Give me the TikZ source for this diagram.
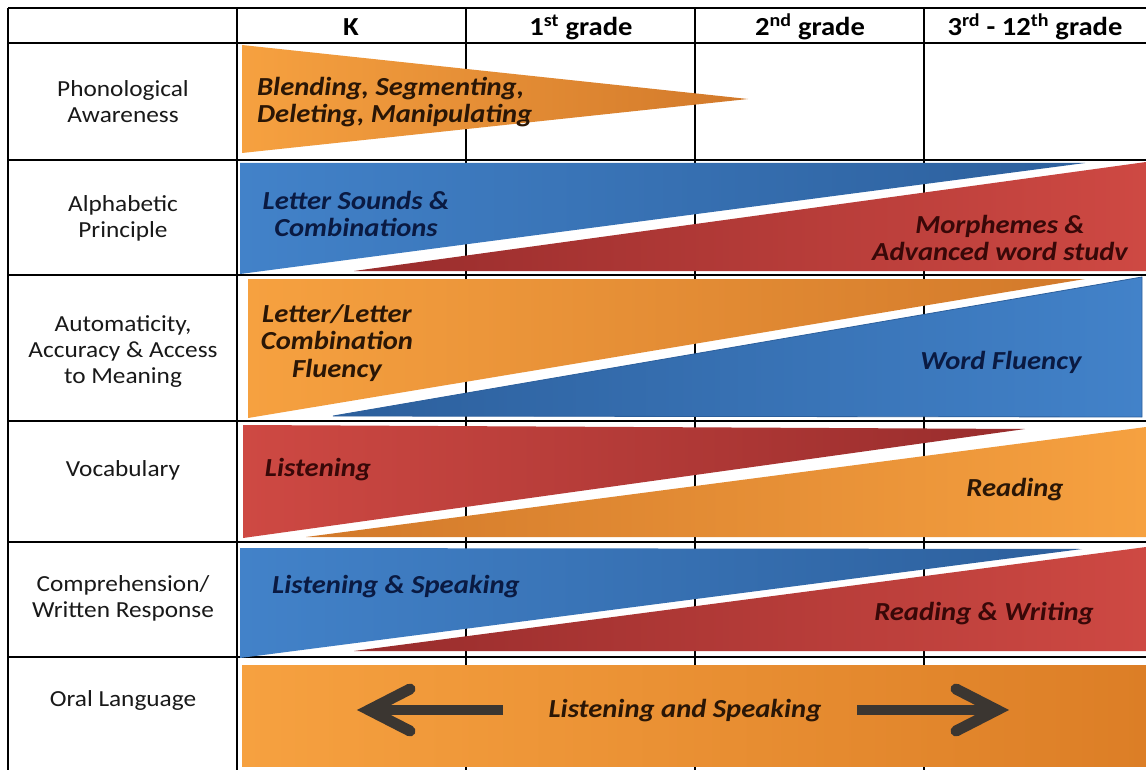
\documentclass[tikz,border=0pt]{standalone}
\usepackage{fontspec}
\setmainfont{Carlito}[FakeStretch=1.1]
\definecolor{orA}{HTML}{F6A140}
\definecolor{orB}{HTML}{D2792A}
\definecolor{orC}{HTML}{DC7E26}
\definecolor{blA}{HTML}{4282C9}
\definecolor{blB}{HTML}{2C5F9C}
\definecolor{rdA}{HTML}{CE4943}
\definecolor{rdB}{HTML}{982C2C}
\definecolor{ortx}{HTML}{2A1606}
\definecolor{bltx}{HTML}{0A1A42}
\definecolor{rdtx}{HTML}{380808}
\definecolor{arr}{HTML}{3B3631}
\tikzset{
  gridline/.style={line width=1.8pt, draw=black},
  lab/.style={font=\fontsize{23}{26}\selectfont, align=center, text=black!90, inner sep=0pt},
  head/.style={font=\fontsize{26}{28}\selectfont\bfseries, text=black, inner sep=0pt},
  inb/.style={font=\fontsize{26}{27.5}\selectfont\bfseries\itshape, align=center, inner sep=0pt},
  shaft/.style={draw=arr, line width=10pt, line cap=butt},
  chev/.style={draw=arr, line width=11pt, line cap=round, line join=miter},
}
\begin{document}
\begin{tikzpicture}[x=1pt,y=-1pt]
\useasboundingbox (0,0) rectangle (1146,770);
\fill[white] (0,0) rectangle (1146,770);
% grid
\foreach \xx in {8,237,466,695,924} \draw[gridline] (\xx,8) -- (\xx,770);
\foreach \yy in {8,43,160,275,421,542,657} \draw[gridline] (8,\yy) -- (1146,\yy);
% row 1
\shade[left color=orA, right color=orB] (242,45) -- (748,99) -- (242,153) -- cycle;
% row 2
\shade[left color=blA, right color=blB] (240,163) -- (1085,163) -- (240,274) -- cycle;
\shade[left color=rdB, right color=rdA] (354,271) -- (1146,162) -- (1146,271) -- cycle;
% row 3
\shade[left color=orA, right color=orB] (248,279) -- (1085,279) -- (248,418) -- cycle;
\shade[left color=blB, right color=blA, draw=blB, line width=0.8pt] (333,416) -- (1142,277) -- (1142,417) -- cycle;
% row 4
\shade[left color=rdA, right color=rdB] (243,425) -- (1025,429) -- (243,538) -- cycle;
\shade[left color=orB, right color=orA] (306,537) -- (1146,427) -- (1146,537) -- cycle;
% row 5
\shade[left color=blA, right color=blB] (240,548) -- (1082,549) -- (240,658) -- cycle;
\shade[left color=rdB, right color=rdA] (354,651) -- (1146,547) -- (1146,651) -- cycle;
% row 6
\shade[left color=orA, middle color=orA!85!orC, right color=orC] (242,665) rectangle (1146,766);
% arrows
\coordinate (ls) at (503,710);
\coordinate (lt) at (369,710);
\coordinate (lu) at (410,689);
\coordinate (ld) at (410,731);
\coordinate (rs) at (857,710);
\coordinate (rt) at (997,710);
\coordinate (ru) at (956,689);
\coordinate (rd) at (956,731);
\draw[shaft] (ls) -- (lt);
\draw[chev] (lu) -- (lt) -- (ld);
\draw[shaft] (rs) -- (rt);
\draw[chev] (ru) -- (rt) -- (rd);
% header
\node[head] (hK) at (351,27) {K};
\node[head] (h1) at (581,27) {1\textsuperscript{st} grade};
\node[head] (h2) at (810,27) {2\textsuperscript{nd} grade};
\node[head] (h3) at (1035,27) {3\textsuperscript{rd} - 12\textsuperscript{th} grade};
% labels
\node[lab] (l1) at (123,102) {Phonological\\Awareness};
\node[lab] (l2) at (123,218) {Alphabetic\\Principle};
\node[lab] (l3) at (123,352) {Automaticity,\\Accuracy \& Access\\to Meaning};
\node[lab] (l4) at (123,470) {Vocabulary};
\node[lab] (l5) at (123,598) {Comprehension/\\Written Response};
\node[lab] (l6) at (123,700) {Oral Language};
% in-shape texts
\node[inb, text=ortx, align=left, anchor=west] (t1) at (257,102) {Blending, Segmenting,\\Deleting, Manipulating};
\node[inb, text=bltx] (t2a) at (356,214) {Letter Sounds \&\\Combinations};
\node[inb, text=rdtx] (t2b) at (1000,238) {Morphemes \&\\Advanced word studv};
\node[inb, text=ortx] (t3a) at (337,343) {Letter/Letter\\Combination\\Fluency};
\node[inb, text=bltx] (t3b) at (1001,362) {Word Fluency};
\node[inb, text=rdtx] (t4a) at (318,470) {Listening};
\node[inb, text=ortx] (t4b) at (1015,490) {Reading};
\node[inb, text=bltx] (t5a) at (396,587) {Listening \& Speaking};
\node[inb, text=rdtx] (t5b) at (984,614) {Reading \& Writing};
\node[inb, text=ortx] (t6) at (685,711) {Listening and Speaking};
\end{tikzpicture}
\end{document}
